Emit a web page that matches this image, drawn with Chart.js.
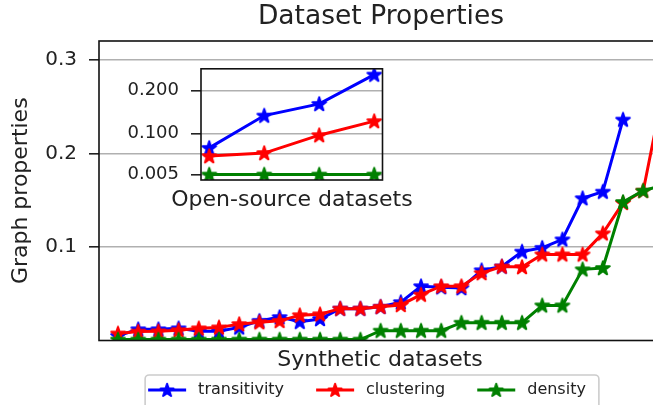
<!DOCTYPE html>
<html><head><meta charset="utf-8">
<script src="https://cdn.jsdelivr.net/npm/chart.js@4.4.1/dist/chart.umd.min.js"></script>
<style>
html,body{margin:0;padding:0;background:#fff;}
#wrap{position:relative;width:653px;height:405px;overflow:hidden;background:#fff;}
#main{position:absolute;left:0;top:0;}
#inset{position:absolute;left:100px;top:46px;}
</style></head><body>
<div id="wrap"><canvas id="main" width="762" height="408"></canvas><canvas id="inset" width="384" height="170"></canvas></div>
<script>
// ---- data ----
const syntheticDatasets = [1,2,3,4,5,6,7,8,9,10,11,12,13,14,15,16,17,18,19,20,21,22,23,24,25,26,27,28];
const transitivity = [0.005,0.012,0.012,0.013,0.010,0.010,0.014,0.021,0.025,0.020,0.023,0.034,0.034,0.036,0.041,0.058,0.057,0.056,0.075,0.079,0.095,0.099,0.108,0.152,0.159,0.236];
const clustering = [0.0075,0.0095,0.0098,0.011,0.013,0.014,0.0175,0.0195,0.021,0.027,0.028,0.034,0.034,0.036,0.038,0.049,0.058,0.058,0.072,0.079,0.0785,0.092,0.092,0.092,0.1145,0.147,0.16,0.268];
const density = [0.001,0.001,0.001,0.001,0.001,0.001,0.001,0.001,0.001,0.001,0.001,0.001,0.001,0.0105,0.0105,0.0105,0.0105,0.019,0.019,0.019,0.019,0.0375,0.0375,0.076,0.0775,0.148,0.16,0.166];
const mainYTicks = [0.1,0.2,0.3];
const mainYTickLabels = ['0.1','0.2','0.3'];

const openSourceDatasets = [1,2,3,4];
const insetTransitivity = [0.067,0.142,0.169,0.237];
const insetClustering = [0.048,0.055,0.0965,0.129];
const insetDensity = [0.005,0.005,0.005,0.005];
const insetYTicks = [0.005,0.1,0.2];
const insetYTickLabels = ['0.005','0.100','0.200'];

const seriesNames = ['transitivity','clustering','density'];
const seriesColors = ['#0000ff','#ff0000','#008000'];

// ---- styling helpers ----
const FONT = "'DejaVu Sans', sans-serif";
const TEXT = '#222222';
Chart.defaults.font.family = FONT;
Chart.defaults.color = TEXT;

function drawStar(ctx, cx, cy, R, color){
  const r = R*0.382;
  ctx.beginPath();
  for(let k=0;k<10;k++){
    const a = -Math.PI/2 + k*Math.PI/5;
    const rad = (k%2)?r:R;
    ctx.lineTo(cx+rad*Math.cos(a), cy+rad*Math.sin(a));
  }
  ctx.closePath();
  ctx.fillStyle=color; ctx.fill();
  ctx.lineWidth=2; ctx.lineJoin='round'; ctx.strokeStyle=color; ctx.stroke();
}
function starImage(color){
  const c=document.createElement('canvas'); c.width=20; c.height=20;
  drawStar(c.getContext('2d'),10,10.5,7.2,color);
  return c;
}
function legendImage(color){
  const c=document.createElement('canvas'); c.width=66; c.height=20;
  const ctx=c.getContext('2d');
  ctx.strokeStyle=color; ctx.lineWidth=3;
  ctx.beginPath(); ctx.moveTo(24,10); ctx.lineTo(62,10); ctx.stroke();
  drawStar(ctx,43,10.5,6.8,color);
  return c;
}
const stars = seriesColors.map(starImage);
const legendImgs = seriesColors.map(legendImage);
const xy = (xs, ys) => ys.map((v,i)=>({x:xs[i], y:v}));

const spines = {id:'spines', afterDatasetsDraw(chart){
  const {left,top,right,bottom}=chart.chartArea; const ctx=chart.ctx;
  ctx.save(); ctx.strokeStyle='#111'; ctx.lineWidth=1.6;
  ctx.strokeRect(left,top,right-left,bottom-top); ctx.restore();
}};
const legendShift = {id:'legendShift', afterLayout(chart){
  const l=chart.legend; if(l){ l.left-=26; l.right-=26; }
}};
const legendFrame = {id:'legendFrame', beforeDraw(chart){
  const l=chart.legend; if(!l||!l.legendHitBoxes||!l.legendHitBoxes.length) return;
  const hb=l.legendHitBoxes; const last=hb[hb.length-1];
  const x0=hb[0].left+21, x1=last.left+last.width+13, y0=hb[0].top-7, y1=y0+45;
  const ctx=chart.ctx; ctx.save();
  ctx.beginPath(); ctx.roundRect(x0,y0,x1-x0,y1-y0,4);
  ctx.fillStyle='rgba(255,255,255,0.8)'; ctx.fill();
  ctx.strokeStyle='#cccccc'; ctx.lineWidth=1.6; ctx.stroke(); ctx.restore();
}};

const mainSeries = [transitivity, clustering, density];
new Chart(document.getElementById('main'), {
  type:'line',
  data:{ datasets: seriesNames.map((n,k)=>({
    label:n, data: xy(syntheticDatasets, mainSeries[k]),
    borderColor:seriesColors[k], backgroundColor:seriesColors[k],
    borderWidth:3, pointStyle:stars[k], pointRadius:7, tension:0, fill:false, order:3-k
  }))},
  options:{
    responsive:false, animation:false, devicePixelRatio:1, events:[],
    layout:{padding:0},
    scales:{
      x:{type:'linear', min:0.06, max:27.88, grid:{display:false}, border:{display:false},
         ticks:{display:false},
         title:{display:true, text:'Synthetic datasets', font:{size:22}, color:TEXT, padding:{top:0,bottom:0.4}},
         afterFit(s){ s.height=33.5; }},
      y:{type:'linear', position:'left', min:0, max:0.32,
         afterBuildTicks(s){ s.ticks = mainYTicks.map(v=>({value:v})); },
         ticks:{font:{size:20}, padding:12, color:TEXT, callback:(v,i)=>mainYTickLabels[i]},
         grid:{color:'#b0b0b0', lineWidth:1.6, tickColor:'#222', tickWidth:1.6, tickLength:10, drawTicks:true},
         border:{display:false},
         title:{display:true, text:'Graph properties', font:{size:22}, color:TEXT, padding:{top:8,bottom:0}},
         afterFit(s){ s.width=99; }},
      yRight:{type:'linear', position:'right', display:true, grid:{display:false}, border:{display:false},
         ticks:{display:false}, afterFit(s){ s.width=101; }}
    },
    plugins:{
      title:{display:true, text:'Dataset Properties', color:TEXT,
        font:{size:26.5, weight:'normal', lineHeight:1.1}, padding:{top:2.4,bottom:9.45}},
      legend:{display:true, position:'bottom', align:'center',
        labels:{usePointStyle:true, pointStyleWidth:66, padding:8, font:{size:16}, color:TEXT,
          generateLabels(chart){
            return chart.data.datasets.map((ds,i)=>({text:ds.label, pointStyle:legendImgs[i],
              fillStyle:ds.borderColor, strokeStyle:ds.borderColor, lineWidth:0, hidden:false,
              datasetIndex:i, fontColor:TEXT}));
          }}},
      tooltip:{enabled:false}
    }
  },
  plugins:[spines, legendShift, legendFrame]
});

const insetSeries = [insetTransitivity, insetClustering, insetDensity];
new Chart(document.getElementById('inset'), {
  type:'line',
  data:{ datasets: seriesNames.map((n,k)=>({
    label:n, data: xy(openSourceDatasets, insetSeries[k]),
    borderColor:seriesColors[k], backgroundColor:seriesColors[k],
    borderWidth:3, pointStyle:stars[k], pointRadius:7, tension:0, fill:false, order:3-k
  }))},
  options:{
    responsive:false, animation:false, devicePixelRatio:1, events:[],
    layout:{padding:{top:10,right:0,left:0,bottom:0}},
    scales:{
      x:{type:'linear', min:0.85, max:4.15, display:false},
      y:{type:'linear', position:'left', min:-0.0075, max:0.2505,
         afterBuildTicks(s){ s.ticks = insetYTicks.map(v=>({value:v})); },
         ticks:{font:{size:18}, padding:12, color:TEXT, callback:(v,i)=>insetYTickLabels[i]},
         grid:{color:'#b0b0b0', lineWidth:1.6, tickColor:'#222', tickWidth:1.6, tickLength:10, drawTicks:true},
         border:{display:false},
         afterFit(s){ s.width=101; }},
      yRight:{type:'linear', position:'right', display:true, grid:{display:false}, border:{display:false},
         ticks:{display:false}, afterFit(s){ s.width=101.5; }}
    },
    plugins:{legend:{display:false},
      title:{display:true, position:'bottom', text:'Open-source datasets', color:TEXT,
        font:{size:22, weight:'normal', lineHeight:1.2}, padding:{top:6.8,bottom:2.8}},
      tooltip:{enabled:false}}
  },
  plugins:[spines]
});
</script>
</body></html>
